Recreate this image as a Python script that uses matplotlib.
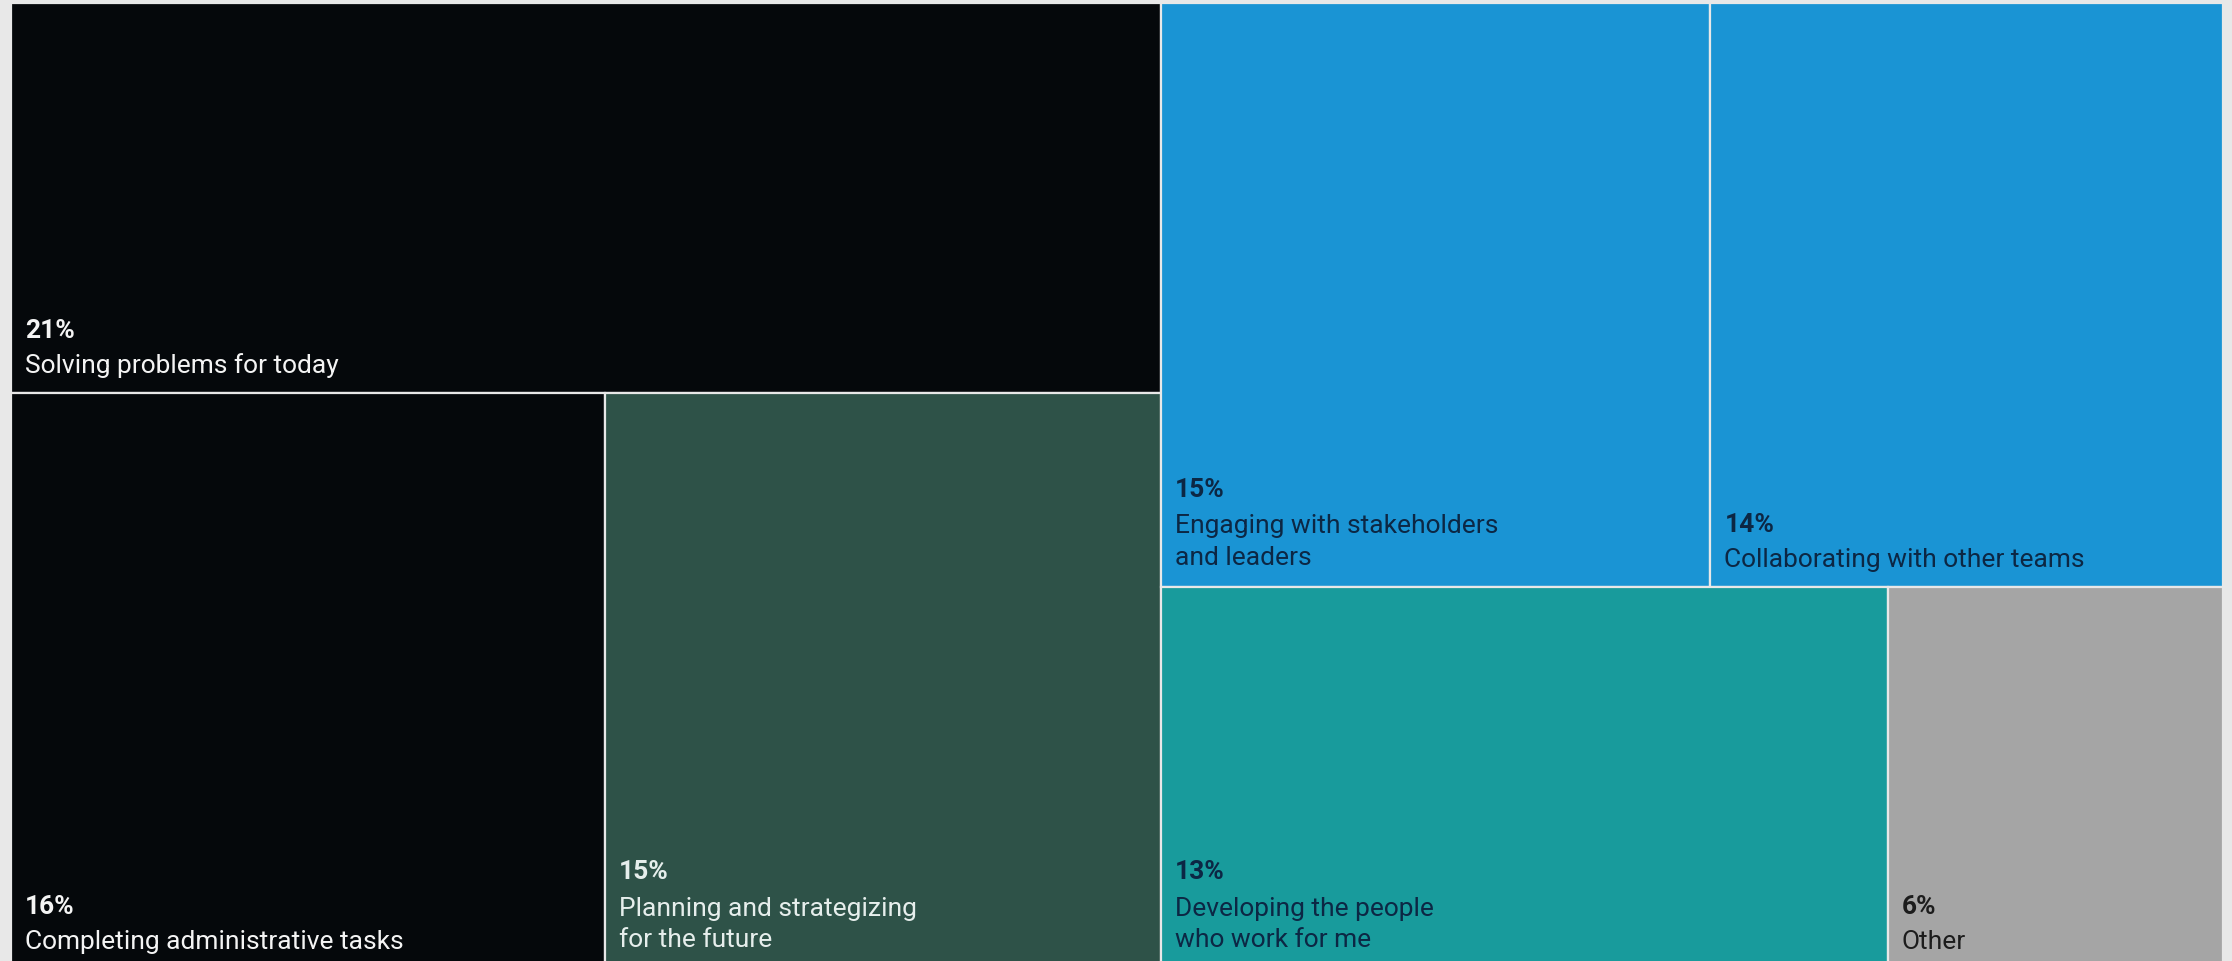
import matplotlib.pyplot as plt
from matplotlib.patches import Rectangle

plt.rcParams['font.family'] = ['Roboto', 'DejaVu Sans']

# shares of time, grouped the way the treemap stacks them
labels = [
    ["Solving problems for today"],
    ["Completing administrative tasks", "Planning and strategizing\nfor the future"],
    ["Engaging with stakeholders\nand leaders", "Collaborating with other teams"],
    ["Developing the people\nwho work for me", "Other"],
]
values = [
    [21],
    [16, 15],
    [15, 14],
    [13, 6],
]
# which rows belong to the left and right columns
columns = [[0, 1], [2, 3]]

fills = [
    ["#05080b"],
    ["#05080b", "#2e5248"],
    ["#1a94d4", "#1a94d4"],
    ["#189b9c", "#a5a5a5"],
]
text_colors = [
    ["#f4f4f4"],
    ["#f4f4f4", "#e6eeec"],
    ["#0c2744", "#0c2744"],
    ["#0c2744", "#1c1c1c"],
]
bg = "#e8e8e8"

W, H = 2232, 962
fig = plt.figure(figsize=(W / 100, H / 100), dpi=100, facecolor=bg)
ax = fig.add_axes([0, 0, 1, 1])
ax.set_xlim(0, W)
ax.set_ylim(H, 0)
ax.axis('off')

# treemap area in pixels (bottom runs past the edge of the figure)
x0, x1 = 11, 2223
y0, y1 = 4, 970

total = sum(sum(r) for r in values)
cx = x0
for col in columns:
    col_sum = sum(sum(values[r]) for r in col)
    cw = (x1 - x0) * col_sum / total
    cy = y0
    for r in col:
        rh = (y1 - y0) * sum(values[r]) / col_sum
        rx = cx
        for v, lab, fc, tc in zip(values[r], labels[r], fills[r], text_colors[r]):
            rw = cw * v / sum(values[r])
            ax.add_patch(Rectangle((rx, cy), rw, rh, facecolor=fc,
                                   edgecolor=bg, linewidth=1.6))
            bottom = min(cy + rh, 970)
            n_lines = lab.count("\n") + 1
            ax.text(rx + 14, bottom - 16 - 2 * (n_lines - 1), lab, color=tc,
                    fontsize=19, va='bottom', ha='left', linespacing=1.38)
            ax.text(rx + 14, bottom - 18 - n_lines * 33 - 2 * (n_lines - 1),
                    f"{v}%", color=tc, fontsize=19, fontweight='bold',
                    va='bottom', ha='left')
            rx += rw
        cy += rh
    cx += cw

fig.savefig("out.png", dpi=100, facecolor=bg)
